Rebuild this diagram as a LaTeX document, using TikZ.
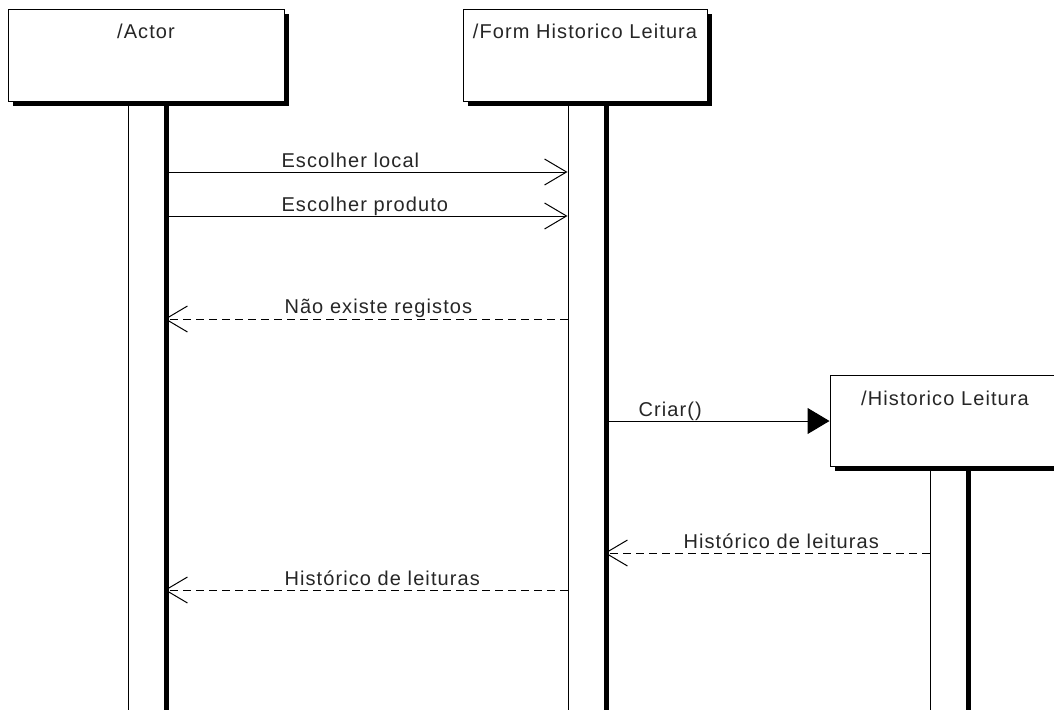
\documentclass[tikz,border=0pt]{standalone}
\usepackage{fontspec}
\setmainfont{Liberation Sans}[LetterSpace=5.5]
\usetikzlibrary{arrows.meta,shadows}

\begin{document}
\begin{tikzpicture}[x=1pt,y=-1pt,line width=1pt,
  txt/.style={font=\fontsize{20}{24}\selectfont,inner sep=0pt,text=black!85},
  headbox/.style={draw,fill=white,minimum width=#1,minimum height=91pt,inner sep=0pt,
    drop shadow={shadow xshift=4.5pt,shadow yshift=-4.5pt,fill=black,opacity=1}},
  lifeline/.style={draw,fill=white,minimum width=36pt,minimum height=611pt,inner sep=0pt,
    drop shadow={shadow xshift=4.5pt,shadow yshift=0pt,fill=black,opacity=1}},
  callmsg/.style={-{Straight Barb[length=22pt,width=26pt]}},
  retmsg/.style={dash pattern=on 8pt off 5pt,-{Straight Barb[length=22pt,width=26pt]}},
  createmsg/.style={-{Triangle[length=22pt,width=26pt]}}
]
\fill[white] (0,0) rectangle (1054,709);
\clip (0,0) rectangle (1054,709);

% lifelines (drawn first, so the heads cover their tops)
\node[lifeline] (aLL) at (146,406.5) {};
\node[lifeline] (fLL) at (586,406.5) {};
\node[lifeline] (hLL) at (948,721) {};

% object heads
\node[headbox=276pt] (aHead) at (146,55.5) {};
\node[headbox=244pt] (fHead) at (585,55.5) {};
\node[headbox=238pt] (hHead) at (949,420.5) {};

\node[txt,anchor=base] (aName) at (146,39) {/Actor};
\node[txt,anchor=base] (fName) at (585,39) {/Form Historico Leitura};
\node[txt,anchor=base] (hName) at (945,405) {/Historico Leitura};

% messages
\draw[callmsg] (aLL.east |- 0,172) -- (fLL.west |- 0,172);
\node[txt,anchor=base west] (m1) at (281,167) {Escolher local};

\draw[callmsg] (aLL.east |- 0,216) -- (fLL.west |- 0,216);
\node[txt,anchor=base west] (m2) at (281,211) {Escolher produto};

\draw[retmsg] (fLL.west |- 0,319) -- (aLL.east |- 0,319);
\node[txt,anchor=base west] (m3) at (284,313) {Não existe registos};

\draw[createmsg] (fLL.east |- 0,421) -- (hHead.west |- 0,421);
\node[txt,anchor=base west] (m4) at (638,416) {Criar()};

\draw[retmsg] (hLL.west |- 0,553) -- (fLL.east |- 0,553);
\node[txt,anchor=base west] (m5) at (683,548) {Histórico de leituras};

\draw[retmsg] (fLL.west |- 0,590) -- (aLL.east |- 0,590);
\node[txt,anchor=base west] (m6) at (284,585) {Histórico de leituras};
\end{tikzpicture}
\end{document}
